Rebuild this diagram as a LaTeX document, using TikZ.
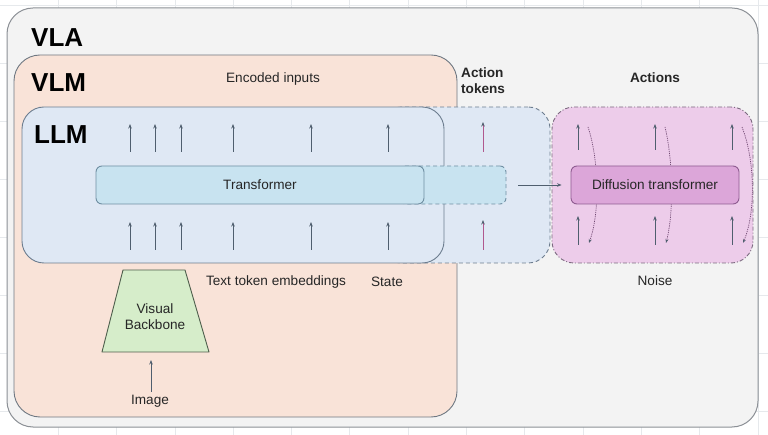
\documentclass[tikz,border=0pt]{standalone}
\usepackage{fontspec}
\setmainfont{Liberation Sans}
\usetikzlibrary{arrows.meta}
\definecolor{gridc}{HTML}{E6E9EC}
\definecolor{vlaF}{HTML}{F3F3F3}
\definecolor{vlaB}{HTML}{8C9096}
\definecolor{vlmF}{HTML}{F9E3D8}
\definecolor{vlmB}{HTML}{6F7882}
\definecolor{llmF}{HTML}{DFE8F4}
\definecolor{llmB}{HTML}{6D7D8F}
\definecolor{trF}{HTML}{C8E3F0}
\definecolor{trB}{HTML}{6F8EA2}
\definecolor{difF}{HTML}{EDCCEA}
\definecolor{difB}{HTML}{7C6A80}
\definecolor{ditF}{HTML}{DCA6D9}
\definecolor{ditB}{HTML}{8E5C90}
\definecolor{vbF}{HTML}{D6EDCA}
\definecolor{vbB}{HTML}{4E5E4C}
\definecolor{arrC}{HTML}{4F5E6E}
\definecolor{actC}{HTML}{B0588E}
\definecolor{txt}{HTML}{262626}
\begin{document}
\begin{tikzpicture}[x=1pt,y=-1pt,
  boxbase/.style={inner sep=0pt, line width=0.9pt},
  big/.style={font=\fontsize{26}{30}\selectfont\bfseries, text=black, inner sep=0pt},
  lbl/.style={font=\fontsize{13.6}{16}\selectfont, text=txt, inner sep=0pt},
  blbl/.style={font=\fontsize{13.6}{16}\selectfont\bfseries, text=txt, inner sep=0pt},
  arr/.style={draw=arrC, line width=0.8pt, -{Stealth[length=4.5pt,width=3.5pt]}},
  actarr/.style={draw=actC, line width=0.9pt, -{Stealth[length=4.5pt,width=3.5pt,color=arrC]}},
  curv/.style={draw=ditB!80!black, line width=0.7pt, dash pattern=on 1.2pt off 1pt, -{Stealth[length=4pt,width=3pt,color=arrC]}}]
\useasboundingbox (0,0) rectangle (768,435);
\fill[white] (0,0) rectangle (768,435);
\foreach \k in {1,...,13} \draw[gridc, line width=0.8pt] (58.3*\k,0) -- (58.3*\k,435);
\foreach \k in {0,...,7} \draw[gridc, line width=0.8pt] (0,5+58*\k) -- (768,5+58*\k);
% VLA
\node[boxbase, draw=vlaB, fill=vlaF, line width=1pt, rounded corners=26pt, minimum width=751pt, minimum height=419pt] (vla) at (382.5,217.5) {};
\node[big, anchor=west] (vlat) at (31,38) {VLA};
% VLM
\node[boxbase, draw=vlmB, fill=vlmF, rounded corners=26pt, minimum width=443pt, minimum height=362pt] (vlm) at (235.5,236) {};
\node[big, anchor=west] (vlmt) at (31,83) {VLM};
\node[lbl] (enc) at (273,79) {Encoded inputs};
% action token box (dashed)
\node[boxbase, draw=llmB, fill=llmF, dash pattern=on 4pt off 3pt, rounded corners=22pt, minimum width=170pt, minimum height=156pt] (act) at (465,185) {};
% LLM
\node[boxbase, draw=llmB, fill=llmF, rounded corners=22pt, minimum width=422pt, minimum height=156pt] (llm) at (233,185) {};
\node[big, anchor=west] (llmt) at (34,135) {LLM};
% transformer extension (dashed)
\node[boxbase, draw=trB, fill=trF, dash pattern=on 4pt off 3pt, rounded corners=6pt, minimum width=106pt, minimum height=38pt] (ext) at (453,185) {};
% transformer
\node[boxbase, draw=trB, fill=trF, rounded corners=6pt, minimum width=328pt, minimum height=38pt, lbl] (tr) at (260,185) {Transformer};
% LLM arrows
\foreach \x [count=\i] in {130,155,181,233,311,388} {
  \coordinate (lb\i) at (\x,250); \coordinate (lbe\i) at (\x,222);
  \coordinate (lt\i) at (\x,152); \coordinate (lte\i) at (\x,124);
  \draw[arr] (lb\i) -- (lbe\i);
  \draw[arr] (lt\i) -- (lte\i);
}
% action token arrows
\coordinate (ab) at (483,250); \coordinate (abe) at (483,220);
\coordinate (at) at (483,152); \coordinate (ate) at (483,122);
\draw[actarr] (ab) -- (abe);
\draw[actarr] (at) -- (ate);
\node[blbl, anchor=west, align=left] (actt) at (461,81) {Action\\tokens};
% diffusion area
\node[boxbase, draw=difB, fill=difF, dash pattern=on 4pt off 2pt on 1pt off 2pt, rounded corners=22pt, minimum width=201pt, minimum height=156pt] (dif) at (652.5,185) {};
% curved dotted arrows
\foreach \x/\b [count=\i] in {578/11,655/8,732/13} {
  \coordinate (cs\i) at (\x+10,127); \coordinate (ce\i) at (\x+11,243);
  \draw[curv] (cs\i) .. controls (\x+10+\b,160) and (\x+11+\b,212) .. (ce\i);
}
% diffusion transformer
\node[boxbase, draw=ditB, fill=ditF, rounded corners=6pt, minimum width=168pt, minimum height=38pt, lbl, text=black!85] (dit) at (655,185) {Diffusion transformer};
\foreach \x [count=\i] in {578,655,732} {
  \coordinate (db\i) at (\x,245); \coordinate (dbe\i) at (\x,216);
  \coordinate (dt\i) at (\x,150); \coordinate (dte\i) at (\x,124);
  \draw[arr] (db\i) -- (dbe\i);
  \draw[arr] (dt\i) -- (dte\i);
}
\draw[arr] ([xshift=12pt]ext.east) -- ([xshift=-9pt]dit.west);
\node[blbl] (actions) at (655,78) {Actions};
\node[lbl] (noise) at (655,281) {Noise};
% bottom labels
\node[lbl] (tte) at (276,282) {Text token embeddings};
\node[lbl] (state) at (387,282) {State};
% visual backbone
\coordinate (vb1) at (123,270); \coordinate (vb2) at (185,270);
\coordinate (vb3) at (209,352); \coordinate (vb4) at (102,352);
\draw[draw=vbB, fill=vbF, line width=0.9pt, line join=round] (vb1) -- (vb2) -- (vb3) -- (vb4) -- cycle;
\node[lbl, align=center] (vbt) at (155,317) {Visual\\Backbone};
\node[lbl] (img) at (150,401) {Image};
\coordinate (imgtip) at (151,360);
\draw[arr] ([yshift=3pt]img.north -| imgtip) -- (imgtip);
\end{tikzpicture}
\end{document}
